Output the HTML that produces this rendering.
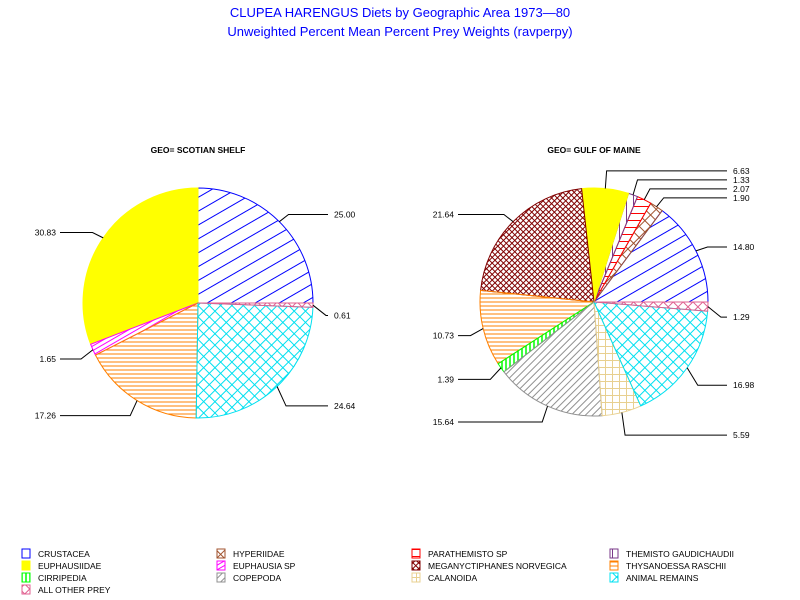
<!DOCTYPE html>
<html><head><meta charset="utf-8">
<style>
body{margin:0;background:#fff;}
svg{display:block;font-family:"Liberation Sans",Arial,sans-serif;}
</style></head>
<body>
<svg id="chart" width="800" height="600" viewBox="0 0 800 600">
<defs>
<pattern id="p-crustacea" patternUnits="userSpaceOnUse" width="12" height="12" patternTransform="rotate(-30)"><line x1="0" y1="6" x2="12" y2="6" stroke="#0000ff" stroke-width="1"/></pattern>
<pattern id="p-euphausiidae" patternUnits="userSpaceOnUse" width="4" height="4"><rect width="4" height="4" fill="#ffff00"/></pattern>
<pattern id="p-cirripedia" patternUnits="userSpaceOnUse" width="4" height="4"><line x1="2" y1="0" x2="2" y2="4" stroke="#00ff00" stroke-width="1.5"/></pattern>
<pattern id="p-other" patternUnits="userSpaceOnUse" width="7" height="7" patternTransform="rotate(45)"><path d="M0 3.5H7M3.5 0V7" stroke="#e06090" stroke-width="1"/></pattern>
<pattern id="p-hyperiidae" patternUnits="userSpaceOnUse" width="8" height="8" patternTransform="rotate(45)"><path d="M0 4H8M4 0V8" stroke="#a0522d" stroke-width="1"/></pattern>
<pattern id="p-euphausia" patternUnits="userSpaceOnUse" width="4" height="4" patternTransform="rotate(-30)"><line x1="0" y1="2" x2="4" y2="2" stroke="#ff00ff" stroke-width="1"/></pattern>
<pattern id="p-copepoda" patternUnits="userSpaceOnUse" width="5" height="5" patternTransform="rotate(-45)"><line x1="0" y1="2.5" x2="5" y2="2.5" stroke="#909090" stroke-width="1"/></pattern>
<pattern id="p-parathemisto" patternUnits="userSpaceOnUse" width="7" height="7"><line x1="0" y1="3.5" x2="7" y2="3.5" stroke="#ff0000" stroke-width="1"/></pattern>
<pattern id="p-meganyct" patternUnits="userSpaceOnUse" width="4" height="4" patternTransform="rotate(45)"><path d="M0 2H4M2 0V4" stroke="#800000" stroke-width="1"/></pattern>
<pattern id="p-calanoida" patternUnits="userSpaceOnUse" width="7" height="7"><path d="M0 3.5H7M3.5 0V7" stroke="#e8d090" stroke-width="1"/></pattern>
<pattern id="p-themisto" patternUnits="userSpaceOnUse" width="7" height="7"><line x1="3.5" y1="0" x2="3.5" y2="7" stroke="#7a3a8a" stroke-width="1"/></pattern>
<pattern id="p-thysanoessa" patternUnits="userSpaceOnUse" width="4" height="4"><line x1="0" y1="2" x2="4" y2="2" stroke="#ff8000" stroke-width="1"/></pattern>
<pattern id="p-animal" patternUnits="userSpaceOnUse" width="8" height="8" patternTransform="rotate(45)"><path d="M0 4H8M4 0V8" stroke="#00e0f0" stroke-width="1"/></pattern>
</defs>
<text x="400" y="17" text-anchor="middle" font-size="13" fill="#0000ff">CLUPEA HARENGUS Diets by Geographic Area 1973&#8212;80</text>
<text x="400" y="36" text-anchor="middle" font-size="13" fill="#0000ff">Unweighted Percent Mean Percent Prey  Weights (ravperpy)</text>
<g id="pies"></g>
<g id="legend"></g>
</svg>
<script>
const categories = ["CRUSTACEA","HYPERIIDAE","PARATHEMISTO SP","THEMISTO GAUDICHAUDII","EUPHAUSIIDAE","EUPHAUSIA SP","MEGANYCTIPHANES NORVEGICA","THYSANOESSA RASCHII","CIRRIPEDIA","COPEPODA","CALANOIDA","ANIMAL REMAINS","ALL OTHER PREY"];
const patternIds = ["p-crustacea","p-hyperiidae","p-parathemisto","p-themisto","p-euphausiidae","p-euphausia","p-meganyct","p-thysanoessa","p-cirripedia","p-copepoda","p-calanoida","p-animal","p-other"];
const strokeColors = ["#0000ff","#a0522d","#ff0000","#7a3a8a","#ffff00","#ff00ff","#800000","#ff8000","#00ff00","#909090","#e8d090","#00e0f0","#e06090"];
const pieTitles = ["GEO= SCOTIAN SHELF","GEO= GULF OF MAINE"];
const scotianValues = [25.00,0,0,0,30.83,1.65,0,17.26,0,0,0,24.64,0.61];
const maineValues = [14.80,1.90,2.07,1.33,6.63,0,21.64,10.73,1.39,15.64,5.59,16.98,1.29];
const legendOrder = ["CRUSTACEA","HYPERIIDAE","PARATHEMISTO SP","THEMISTO GAUDICHAUDII","EUPHAUSIIDAE","EUPHAUSIA SP","MEGANYCTIPHANES NORVEGICA","THYSANOESSA RASCHII","CIRRIPEDIA","COPEPODA","CALANOIDA","ANIMAL REMAINS","ALL OTHER PREY"];

const NS="http://www.w3.org/2000/svg";
function mk(tag, attrs, parent){const e=document.createElementNS(NS,tag);for(const k in attrs)e.setAttribute(k,attrs[k]);parent.appendChild(e);return e;}
const pies=document.getElementById('pies');

function drawPie(values, cx, cy, r, title, leftX, rightX, key){
  const g=mk('g',{},pies);
  
  
  const t=mk('text',{x:cx,y:153,'text-anchor':'middle','font-size':'8.5','font-weight':'bold'},g);
  
  
  t.textContent=title;
  const total=values.reduce((a,b)=>a+b,0);
  let ang=0; const labels=[];
  values.forEach((v,i)=>{
    if(v<=0) return;
    const a0=ang, a1=ang+v/total*2*Math.PI; ang=a1;
    const x0=cx+r*Math.cos(a0), y0=cy-r*Math.sin(a0), x1=cx+r*Math.cos(a1), y1=cy-r*Math.sin(a1);
    const large=(a1-a0)>Math.PI?1:0;
    const p=mk('path',{d:`M${cx},${cy}L${x0},${y0}A${r},${r} 0 ${large} 0 ${x1},${y1}Z`,fill:`url(#${patternIds[i]})`,stroke:strokeColors[i],'stroke-width':'1'},g);
    
    
    const am=(a0+a1)/2;
    const right=Math.cos(am)>=0;
    const s=Math.sin(am);
    let ey=cy-(r+13)*s;
    if(s<=0.05) ey+= right?10:4; else ey+=2;
    labels.push({v,am,px:cx+r*Math.cos(am),py:cy-r*s,ey:ey,ex:cx+(r+13)*Math.cos(am),right:right});
  });
  [true,false].forEach(side=>{
    const L=labels.filter(l=>l.right===side).sort((a,b)=>a.ey-b.ey);
    for(let k=L.length-2;k>=0;k--){ if(L[k+1].ey-L[k].ey<9) L[k].ey=L[k+1].ey-9; }
    for(let k=1;k<L.length;k++){ if(L[k].ey-L[k-1].ey<9) L[k].ey=L[k-1].ey+9; }
    L.forEach(l=>{
      const endX=side?rightX:leftX;
      const ln=mk('polyline',{points:`${l.px},${l.py} ${l.ex},${l.ey} ${endX},${l.ey}`,fill:'none',stroke:'#000','stroke-width':'1'},g);
      
      
      const tx=mk('text',{x:side?endX+6:endX-4,y:l.ey+3,'text-anchor':side?'start':'end','font-size':'8.5'},g);
      
      
      tx.textContent=l.v.toFixed(2);
    });
  });
}
drawPie(scotianValues,198,303,115,pieTitles[0],60,328,'scotian-shelf');
drawPie(maineValues,594,302,114,pieTitles[1],458,727,'gulf-of-maine');

const legend=document.getElementById('legend');
const colX=[22,217,412,610];
legendOrder.forEach((name,k)=>{
  const i=categories.indexOf(name);
  const col=k%4,row=Math.floor(k/4);
  const x=colX[col],y=549+row*12;
  const sw=mk('rect',{x:x,y:y,width:8,height:9,fill:`url(#${patternIds[i]})`,stroke:strokeColors[i],'stroke-width':'1'},legend);
  
  
  const tx=mk('text',{x:x+16,y:y+8,'font-size':'8.5'},legend);
  
  
  tx.textContent=name;
});
</script>
</body></html>
